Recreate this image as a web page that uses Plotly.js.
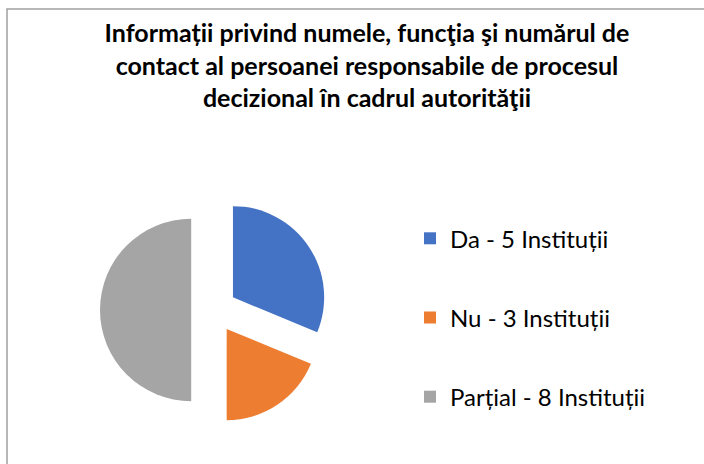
<!DOCTYPE html>
<html>
<head>
<meta charset="utf-8">
<script src="https://cdn.plot.ly/plotly-3.0.1.min.js"></script>
<style>html,body{margin:0;padding:0;background:#fff;}#chart{width:704px;height:464px;}</style>
</head>
<body>
<div id="chart"></div>
<script>
const categories = ["Da - 5 Instituții", "Nu - 3 Instituții", "Parțial - 8 Instituții"];
const values = [5, 3, 8];
const colors = ["#4472C4", "#ED7D31", "#A5A5A5"];
const titleLines = ["Informații privind numele, funcţia şi numărul de", "contact al persoanei responsabile de procesul", "decizional în cadrul autorităţii"];

const W = 704, H = 464;
const FONT = "Lato, 'Liberation Sans', sans-serif";
const pieTrace = {
  type: "pie",
  labels: categories,
  values: values,
  sort: false,
  direction: "clockwise",
  rotation: 0,
  pull: [0.25, 0.25, 0.25],
  textinfo: "none",
  hoverinfo: "label+value",
  marker: {colors: colors, line: {width: 0}},
  domain: {x: [100 / W, 328 / W], y: [40 / H, 268 / H]}
};
// invisible helper entry (listed first) so the legend keeps each slice in its own spaced group
const spacerTrace = {
  type: "scatter", mode: "markers", x: [0], y: [0],
  name: " ", legendgroup: "spacer", showlegend: true,
  marker: {color: "rgba(0,0,0,0)", size: 1}, hoverinfo: "skip"
};
const layout = {
  width: W, height: H,
  margin: {l: 0, r: 0, t: 0, b: 0},
  paper_bgcolor: "#ffffff",
  plot_bgcolor: "rgba(0,0,0,0)",
  xaxis: {visible: false, domain: [0, 0.01]}, yaxis: {visible: false, domain: [0, 0.01]},
  font: {family: FONT, color: "#000000"},
  title: {
    text: titleLines.join("<br>"),
    font: {family: FONT, size: 25, color: "#000000", weight: "bold"},
    x: 367 / W, xanchor: "center", y: 1 - 42 / H, yanchor: "top"
  },
  showlegend: true,
  legend: {
    x: 410 / W, xanchor: "left", y: 1 - 137 / H, yanchor: "top",
    traceorder: "grouped", tracegroupgap: 45,
    font: {family: FONT, size: 24, color: "#000000"},
    bgcolor: "rgba(0,0,0,0)"
  },
  shapes: [{
    type: "rect", xref: "paper", yref: "paper",
    x0: 7 / W, x1: 1.05, y0: -0.05, y1: 1 - 9 / H,
    line: {color: "#A0A0A0", width: 1.5}, fillcolor: "rgba(0,0,0,0)"
  }]
};
Plotly.newPlot("chart", [spacerTrace, pieTrace], layout, {displayModeBar: false, staticPlot: true});
</script>
</body>
</html>
